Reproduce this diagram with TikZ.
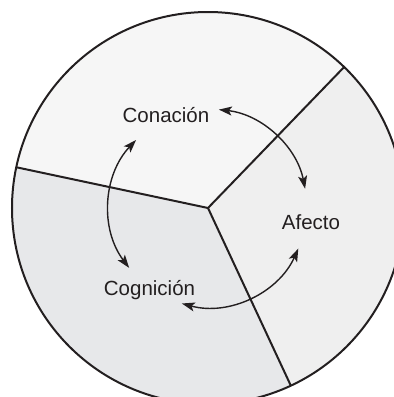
\documentclass[tikz,border=0pt]{standalone}
\usepackage{fontspec}
\setmainfont{Liberation Sans}
\usetikzlibrary{positioning,calc,arrows.meta}
\definecolor{CTop}{HTML}{F6F6F6}
\definecolor{CRight}{HTML}{EFEFEF}
\definecolor{CLeft}{HTML}{E7E8EA}
\definecolor{CInk}{HTML}{231F20}

\begin{document}
\begin{tikzpicture}[x=1pt,y=1pt,
  every node/.style={align=center, font=\fontsize{20.5}{24}\selectfont, text=CInk, anchor=base},
  rim/.style={draw=CInk, line width=2pt},
  cycarrow/.style={draw=CInk, line width=1.4pt,
    {Stealth[length=13pt,width=9pt,inset=3pt]}-{Stealth[length=13pt,width=9pt,inset=3pt]}}]
  \useasboundingbox (-208,-189) rectangle (186,208);
  \clip (-208,-189) rectangle (186,208);
  % three shaded sectors of the disc
  \coordinate (mid) at (0,0);
  \foreach \a/\b/\col in {46/168/CTop, 168/295/CLeft, -65/46/CRight}{
    \fill[\col] (mid) -- (\a:196) arc[start angle=\a, end angle=\b, radius=196] -- cycle;
  }
  \foreach \a in {46,168,295}{
    \draw[rim] (mid) -- (\a:196);
  }
  \draw[rim] (mid) circle[radius=196];
  % labels
  \node (conacion)  at (-42,86)   {Conación};
  \node (afecto)    at (103,-21)  {Afecto};
  \node (cognicion) at (-58.5,-87) {Cognición};
  % arrows running round between the labels
  \foreach \nm/\s/\e in {conaf/83.7/11.2, conco/136.6/217.2, coaf/254.7/335.8}{
    \coordinate (\nm) at (\s:99);
    \draw[cycarrow] (\nm) arc[start angle=\s, end angle=\e, radius=99];
  }
\end{tikzpicture}
\end{document}
